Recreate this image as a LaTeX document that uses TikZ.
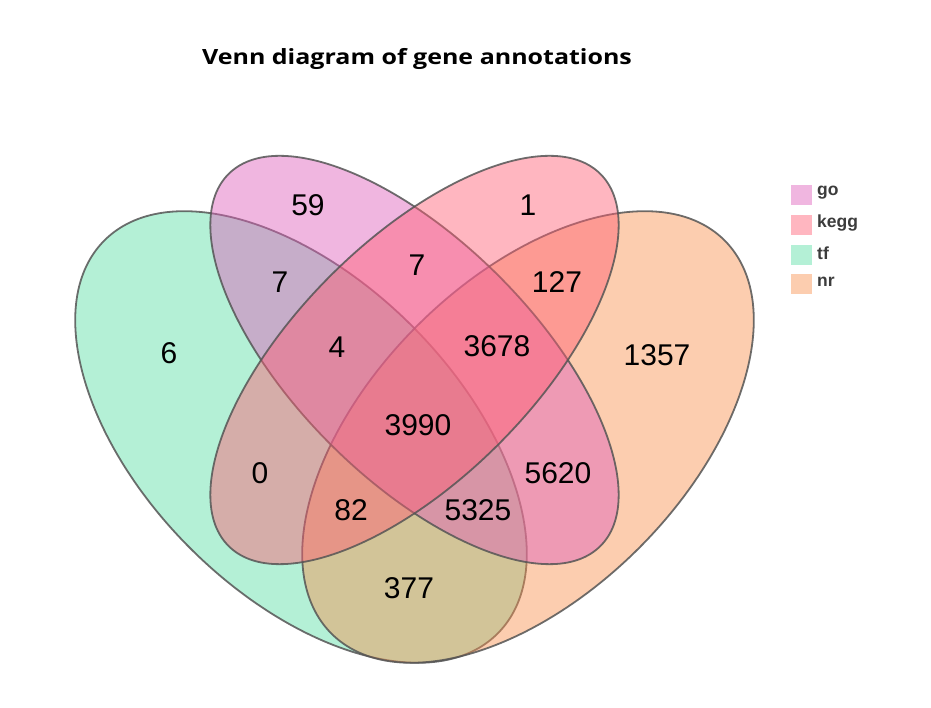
\documentclass[tikz,border=0pt]{standalone}
\usepackage{fontspec}
\setmainfont{Liberation Sans}
\newfontfamily\titlefont{Open Sans}
\definecolor{tfbase}{RGB}{88,222,164}
\definecolor{gobase}{RGB}{222,93,186}
\definecolor{keggbase}{RGB}{255,93,115}
\definecolor{nrbase}{RGB}{248,144,77}
\definecolor{tflite}{RGB}{180,240,214}
\definecolor{golite}{RGB}{240,182,224}
\definecolor{kegglite}{RGB}{255,182,192}
\definecolor{nrlite}{RGB}{252,205,175}
\definecolor{edge}{RGB}{85,85,85}
\definecolor{legtxt}{RGB}{60,60,60}
\begin{document}
\begin{tikzpicture}[x=1pt,y=1pt,
  setshape/.style={draw=edge, line width=1.8pt, draw opacity=0.85, fill opacity=0.45},
  num/.style={font=\fontsize{30}{30}\selectfont, text=black, inner sep=0pt},
  legtext/.style={font=\bfseries\fontsize{17.5}{17.5}\selectfont, text=legtxt, anchor=west, inner sep=0pt},
  legbox/.style={minimum width=21pt, minimum height=20pt, inner sep=0pt, draw=none}]
\useasboundingbox (0,0) rectangle (931,708);
% sets
\draw[setshape, fill=tfbase]   (301,271)   ellipse [x radius=278, y radius=157, rotate=-45];
\draw[setshape, fill=nrbase]   (528,271)   ellipse [x radius=278, y radius=157, rotate=45];
\draw[setshape, fill=gobase]   (414.5,348) ellipse [x radius=263, y radius=119, rotate=-45];
\draw[setshape, fill=keggbase] (414.5,348) ellipse [x radius=263, y radius=119, rotate=45];
% title
\node[font=\titlefont\bfseries\fontsize{21}{21}\selectfont, anchor=base, inner sep=0pt, xscale=1.19] (title) at (417,643) {Venn diagram of gene annotations};
% counts
\node[num] (n59)   at (308,503) {59};
\node[num] (n1)    at (528,503) {1};
\node[num] (n7a)   at (280,426) {7};
\node[num] (n7b)   at (417,443) {7};
\node[num] (n127)  at (557,426) {127};
\node[num] (n6)    at (169,355) {6};
\node[num] (n4)    at (337,361) {4};
\node[num] (n3678) at (497,362) {3678};
\node[num] (n1357) at (657,353) {1357};
\node[num] (n3990) at (418,283) {3990};
\node[num] (n0)    at (260,235) {0};
\node[num] (n5620) at (558,235) {5620};
\node[num] (n82)   at (351,198) {82};
\node[num] (n5325) at (478,198) {5325};
\node[num] (n377)  at (409,120) {377};
% legend
\node[legbox, fill=golite]   (lgo)   at (801.5,513) {};
\node[legbox, fill=kegglite] (lkegg) at (801.5,483) {};
\node[legbox, fill=tflite]   (ltf)   at (801.5,453) {};
\node[legbox, fill=nrlite]   (lnr)   at (801.5,424) {};
\node[legtext] (tgo)   at (817,515) {go};
\node[legtext] (tkegg) at (817,485) {kegg};
\node[legtext] (ttf)   at (817,455) {tf};
\node[legtext] (tnr)   at (817,426) {nr};
\end{tikzpicture}
\end{document}
